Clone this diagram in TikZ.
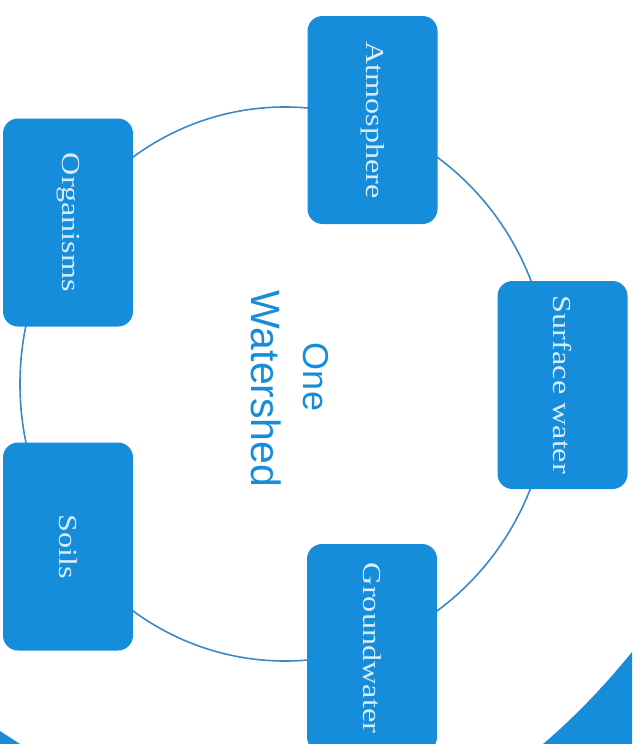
\documentclass[tikz,border=0pt]{standalone}
\usepackage{fontspec}
\setmainfont{Liberation Serif}
\newfontfamily\headfont{Liberation Sans}
\definecolor{boxblue}{RGB}{22,141,218}
\definecolor{boxtext}{RGB}{214,236,250}
\definecolor{linkblue}{RGB}{62,136,196}
\begin{document}
\begin{tikzpicture}[x=1pt,y=-1pt,
  boxnode/.style={fill=boxblue, rounded corners=15pt, minimum width=130pt, minimum height=208pt, inner sep=0pt, text=boxtext, font=\fontsize{26}{30}\selectfont},
  link/.style={draw=linkblue, line width=1.6pt},
  title/.style={text=boxblue, inner sep=0pt, font=\headfont}]
\useasboundingbox (0,0) rectangle (641,744);
\clip (0,0) rectangle (641,744);
\fill[white] (0,0) rectangle (641,744);
% ring behind the boxes
\coordinate (ctr) at (285,384);
\draw[link] (ctr) ellipse [x radius=265pt, y radius=277pt];
% boxes
\node[boxnode] (atm) at (372.5,120) {\rotatebox{-90}{\scalebox{1.24}[1]{Atmosphere}}};
\node[boxnode] (sw) at (562.5,385) {\rotatebox{-90}{\scalebox{1.24}[1]{Surface water}}};
\node[boxnode] (gw) at (372,648) {\rotatebox{-90}{\scalebox{1.24}[1]{Groundwater}}};
\node[boxnode] (org) at (68,222.5) {\rotatebox{-90}{\scalebox{1.24}[1]{Organisms}}};
\node[boxnode] (soil) at (68,546.5) {\rotatebox{-90}{\scalebox{1.24}[1]{Soils}}};
% centre title
\node[title] (one) at (316,377) {\rotatebox{-90}{\fontsize{36}{40}\selectfont One}};
\node[title] (ws) at (266,389) {\rotatebox{-90}{\fontsize{41}{45}\selectfont Watershed}};
% corner shapes
\fill[boxblue] (632,652) .. controls (606,684) and (576,716) .. (543,744) -- (632,744) -- cycle;
\fill[boxblue] (0,731) -- (20,744) -- (0,744) -- cycle;
\end{tikzpicture}
\end{document}
